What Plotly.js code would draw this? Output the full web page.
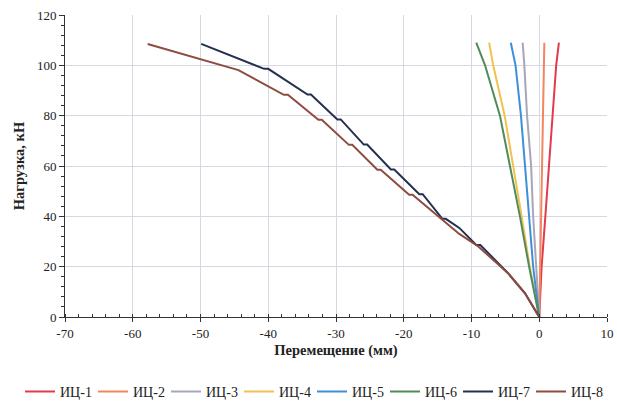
<!DOCTYPE html>
<html>
<head>
<meta charset="utf-8">
<script src="https://cdn.plot.ly/plotly-3.0.1.min.js"></script>
<style>html,body{margin:0;padding:0;background:#fff;}#chart{width:617px;height:405px;}</style>
</head>
<body>
<div id="chart"></div>
<script>
const seriesNames = ["ИЦ-1","ИЦ-2","ИЦ-3","ИЦ-4","ИЦ-5","ИЦ-6","ИЦ-7","ИЦ-8"];
const seriesColors = ["#E23B4E","#F0875E","#A7A7B8","#F2C14E","#3F8FD8","#4F8B5B","#23304F","#8E4B40"];

const xTickVals = [-70, -60, -50, -40, -30, -20, -10, 0, 10];
const xTickText = ["-70", "-60", "-50", "-40", "-30", "-20", "-10", "0", "10"];

const x1 = [0, 0.35, 0.9, 1.4, 2.0, 2.5, 2.9];
const y1 = [0, 20, 40, 60, 80, 100, 109];
const x2 = [0, 0.15, 0.3, 0.45, 0.55, 0.7, 0.75];
const y2 = [0, 20, 40, 60, 80, 100, 109];
const x3 = [0, -0.5, -0.9, -1.2, -1.8, -2.2, -2.45];
const y3 = [0, 20, 40, 60, 80, 100, 109];
const x4 = [0, -1.4, -2.6, -3.8, -5.1, -6.8, -7.4];
const y4 = [0, 20, 40, 60, 80, 100, 109];
const x5 = [0, -0.9, -1.5, -2.1, -2.7, -3.5, -4.2];
const y5 = [0, 20, 40, 60, 80, 100, 109];
const x6 = [0, -1.5, -2.85, -4.3, -5.8, -8.0, -9.3];
const y6 = [0, 20, 40, 60, 80, 100, 109];
const x7 = [0, -2.1, -4.6, -8.7, -9.3, -11.8, -13.8, -14.3, -17.2, -17.7, -21.4, -21.9, -25.4, -25.9, -29.3, -29.8, -33.7, -34.2, -40.0, -40.6, -49.9];
const y7 = [0, 9.4, 17.4, 28.6, 28.6, 35.4, 39.0, 39.0, 48.8, 48.8, 58.6, 58.6, 68.5, 68.5, 78.5, 78.5, 88.4, 88.4, 98.6, 98.6, 108.5];
const x8 = [0, -2.1, -4.6, -9.0, -11.8, -18.7, -19.2, -23.4, -23.9, -27.6, -28.1, -32.1, -32.6, -37.1, -37.7, -44.4, -57.8];
const y8 = [0, 9.4, 17.4, 28.0, 33.0, 48.6, 48.6, 58.5, 58.5, 68.4, 68.4, 78.4, 78.4, 88.3, 88.3, 98.1, 108.5];

const xs = [x1, x2, x3, x4, x5, x6, x7, x8];
const ys = [y1, y2, y3, y4, y5, y6, y7, y8];

const traces = seriesNames.map((n, i) => ({
  x: xs[i], y: ys[i], name: n, type: "scatter", mode: "lines",
  line: {color: seriesColors[i], width: 2}
}));

const fam = "Times New Roman, Liberation Serif, DejaVu Serif, serif";
const font = {family: fam, size: 13, color: "#222"};

const layout = {
  width: 617, height: 405,
  margin: {l: 65, r: 10, t: 15, b: 88, autoexpand: false},
  paper_bgcolor: "#fff", plot_bgcolor: "#fff",
  font: font,
  showlegend: true,
  legend: {orientation: "h", xref: "paper", yref: "paper",
           x: -0.083, xanchor: "left", y: -0.248, yanchor: "middle",
           entrywidth: 28, entrywidthmode: "pixels", itemwidth: 30,
           font: {family: fam, size: 14, color: "#222"}, traceorder: "normal"},
  xaxis: {
    range: [-70, 10], tickmode: "array", tickvals: xTickVals, ticktext: xTickText,
    showgrid: true, gridcolor: "#D8D8E4", gridwidth: 1,
    zeroline: false, showline: true, linecolor: "#333", linewidth: 1,
    ticks: "outside", ticklen: 4, tickcolor: "#333",
    minor: {dtick: 2, ticks: "inside", ticklen: 3, tickcolor: "#333", showgrid: false},
    title: {text: "<b>Перемещение (мм)</b>", font: {family: fam, size: 14.5, color: "#222"}, standoff: 5},
    tickfont: {family: fam, size: 13, color: "#222"}
  },
  yaxis: {
    range: [0, 120], dtick: 20,
    showgrid: true, gridcolor: "#D8D8E4", gridwidth: 1,
    zeroline: false, showline: true, linecolor: "#333", linewidth: 1,
    ticks: "outside", ticklen: 5, tickcolor: "#333",
    minor: {dtick: 4, ticks: "outside", ticklen: 3, tickcolor: "#333", showgrid: false},
    title: {text: "<b>Нагрузка, кН</b>", font: {family: fam, size: 14.5, color: "#222"}, standoff: 8},
    tickfont: {family: fam, size: 13, color: "#222"}
  }
};

Plotly.newPlot("chart", traces, layout, {displayModeBar: false, staticPlot: true});
</script>
</body>
</html>
